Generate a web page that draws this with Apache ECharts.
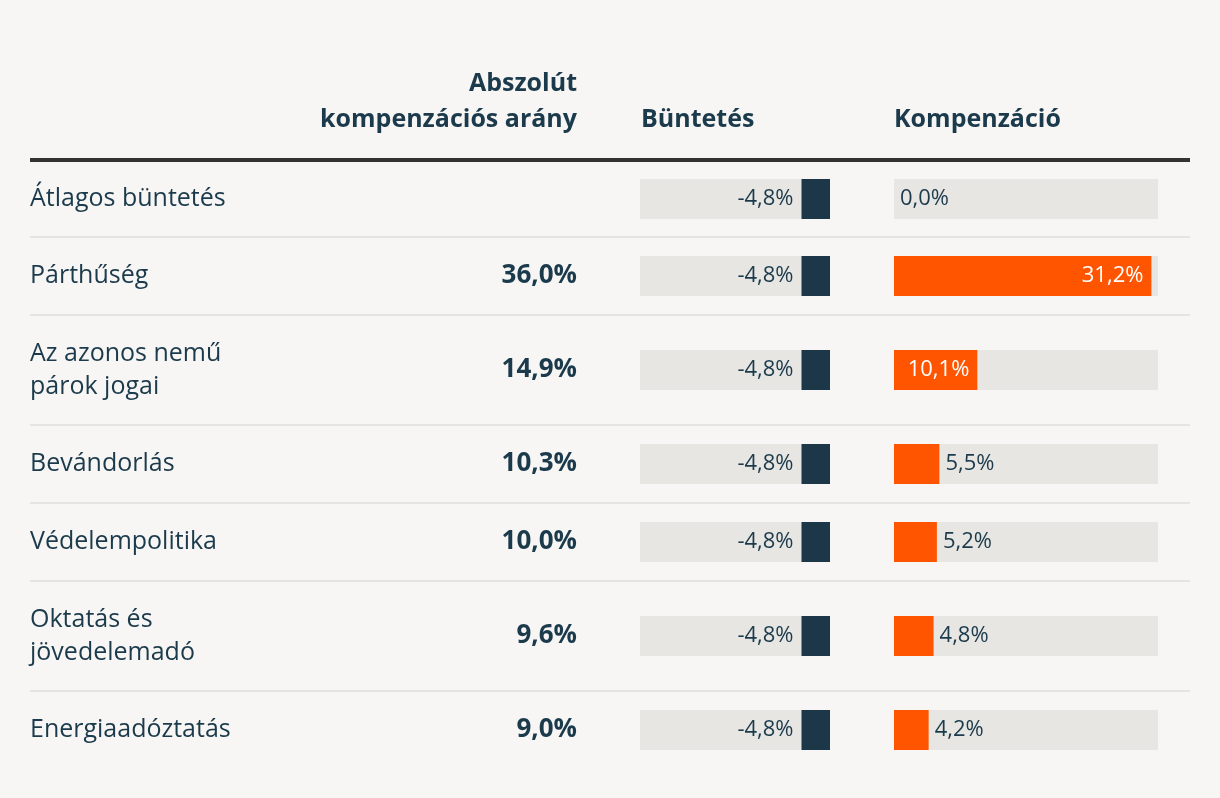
<!DOCTYPE html>
<html>
<head>
<meta charset="utf-8">
<script src="https://cdn.jsdelivr.net/npm/echarts@6/dist/echarts.min.js"></script>
<style>
  html, body { margin:0; padding:0; background:#f7f6f4; }
  #chart { width:1220px; height:798px; }
</style>
</head>
<body>
<div id="chart"></div>
<script>
const categories = ['Átlagos büntetés', 'Párthűség', 'Az azonos nemű\npárok jogai', 'Bevándorlás', 'Védelempolitika', 'Oktatás és\njövedelemadó', 'Energiaadóztatás'];
const absRate = [null, 36.0, 14.9, 10.3, 10.0, 9.6, 9.0];
const penalty = [-4.8, -4.8, -4.8, -4.8, -4.8, -4.8, -4.8];
const compensation = [0.0, 31.2, 10.1, 5.5, 5.2, 4.8, 4.2];
const axisMax = 32;
const headers = ['Abszolút\nkompenzációs arány', 'Büntetés', 'Kompenzáció'];

const FONT = 'Open Sans';
const NAVY = '#1b3a4b';
const BAR_DARK = '#1b3748';
const ORANGE = '#ff5500';
const GRAY = '#e8e6e3';
const fmt = v => v.toFixed(1).replace('.', ',') + '%';

const grids = [], xAxes = [], yAxes = [], series = [];
const graphics = [];

// header texts
graphics.push({ type:'text', style:{ x:577, y:102, text:headers[0], textAlign:'right', textVerticalAlign:'middle', font:'bold 25px "Open Sans"', fill:NAVY, lineHeight:36 } });
graphics.push({ type:'text', style:{ x:641, y:120, text:headers[1], textAlign:'left', textVerticalAlign:'middle', font:'bold 25px "Open Sans"', fill:NAVY } });
graphics.push({ type:'text', style:{ x:894, y:120, text:headers[2], textAlign:'left', textVerticalAlign:'middle', font:'bold 25px "Open Sans"', fill:NAVY } });

let y = 159;
const seps = [];
categories.forEach((cat, i) => {
  const h = cat.indexOf('\n') >= 0 ? 110 : 78;
  const center = y + h / 2 + (i === 0 ? 1 : 0);
  const barTop = center - 20;
  const gP = grids.length;
  grids.push({ left:640, width:190, top:barTop, height:40 });
  const gC = grids.length;
  grids.push({ left:894, width:264, top:barTop, height:40 });
  const xP = xAxes.length;
  xAxes.push({ gridIndex:gP, type:'value', min:-axisMax, max:0, show:false });
  const xC = xAxes.length;
  xAxes.push({ gridIndex:gC, type:'value', min:0, max:axisMax, show:false });
  const yP = yAxes.length;
  yAxes.push({ gridIndex:gP, type:'category', position:'left', data:[cat],
    axisLine:{show:false}, axisTick:{show:false}, splitLine:{show:false},
    axisLabel:{ show:true, align:'left', margin:610, fontSize:25, lineHeight:33, color:NAVY, fontFamily:FONT } });
  yAxes.push({ gridIndex:gP, type:'category', position:'left', data:[absRate[i] == null ? '' : fmt(absRate[i])],
    axisLine:{show:false}, axisTick:{show:false}, splitLine:{show:false},
    axisLabel:{ show:true, align:'right', margin:63, fontSize:26, fontWeight:'bold', color:NAVY, fontFamily:FONT } });
  const yC = yAxes.length;
  yAxes.push({ gridIndex:gC, type:'category', data:[''], show:false });

  series.push({ type:'bar', xAxisIndex:xP, yAxisIndex:yP, data:[penalty[i]], barWidth:40,
    showBackground:true, backgroundStyle:{ color:GRAY },
    itemStyle:{ color:BAR_DARK },
    label:{ show:true, position:'left', distance:8, formatter:p => fmt(p.value), color:NAVY, fontSize:22, fontFamily:FONT } });
  const inside = compensation[i] >= 8;
  series.push({ type:'bar', xAxisIndex:xC, yAxisIndex:yC, data:[compensation[i]], barWidth:40,
    showBackground:true, backgroundStyle:{ color:GRAY },
    itemStyle:{ color:ORANGE },
    label:{ show:true, position: inside ? 'insideRight' : 'right', distance: inside ? 8 : 6,
      formatter:p => fmt(p.value), color: inside ? '#ffffff' : NAVY, fontSize:22, fontFamily:FONT } });
  y += h;
  if (i < categories.length - 1) seps.push(y);
});

graphics.push({ type:'line', shape:{ x1:30, y1:160, x2:1190, y2:160 }, style:{ stroke:'#333333', lineWidth:4 } });
seps.forEach(sy => {
  graphics.push({ type:'line', shape:{ x1:30, y1:sy, x2:1190, y2:sy }, style:{ stroke:'#e6e4e1', lineWidth:2 } });
});

const chart = echarts.init(document.getElementById('chart'), null, { renderer:'canvas' });
chart.setOption({
  backgroundColor:'#f7f6f4',
  animation:false,
  textStyle:{ fontFamily:FONT },
  grid:grids, xAxis:xAxes, yAxis:yAxes, series:series,
  graphic:graphics
});
</script>
</body>
</html>
